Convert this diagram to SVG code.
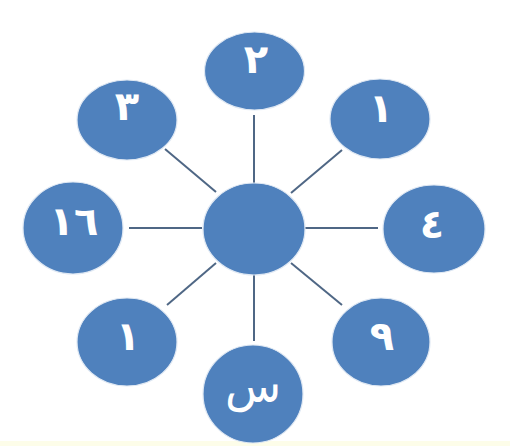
<svg xmlns="http://www.w3.org/2000/svg" width="510" height="446" viewBox="0 0 510 446">
<style>
.n{fill:#4F81BD;stroke:#dfe8f3;stroke-width:1.2}
.c line{stroke:#4f6785;stroke-width:2}
.t{fill:#fff;font-family:"DejaVu Sans",sans-serif;font-size:40px;font-weight:bold;text-anchor:middle}
</style>
<rect x="0" y="0" width="510" height="446" fill="#fff"/>
<rect x="0" y="441" width="510" height="5" fill="#fdfde9"/>
<g id="connectors" class="c">
<line x1="254" y1="115" x2="254" y2="183"/>
<line x1="165" y1="149" x2="216" y2="192"/>
<line x1="342" y1="150" x2="291" y2="193"/>
<line x1="129" y1="228" x2="202" y2="228"/>
<line x1="305" y1="228" x2="378" y2="228"/>
<line x1="216" y1="263" x2="167" y2="305"/>
<line x1="291" y1="263" x2="342" y2="305"/>
<line x1="254" y1="275" x2="254" y2="341"/>
</g>
<g id="center"><ellipse class="n" cx="254" cy="229" rx="51" ry="46"/></g>
<g id="n-top"><ellipse class="n" cx="254.5" cy="71" rx="50" ry="39"/><text class="t" x="256" y="73">٢</text></g>
<g id="n-topleft"><ellipse class="n" cx="127" cy="120" rx="50" ry="40"/><text class="t" x="127" y="120">٣</text></g>
<g id="n-topright"><ellipse class="n" cx="380" cy="119" rx="50" ry="40"/><text class="t" x="381" y="122">١</text></g>
<g id="n-left"><ellipse class="n" cx="73" cy="228" rx="50" ry="46"/><text class="t" x="74" y="235">١٦</text></g>
<g id="n-right"><ellipse class="n" cx="434" cy="229" rx="51" ry="44"/><text class="t" x="432" y="238">٤</text></g>
<g id="n-bottomleft"><ellipse class="n" cx="127" cy="342" rx="50" ry="44"/><text class="t" x="128" y="350">١</text></g>
<g id="n-bottomright"><ellipse class="n" cx="381" cy="342" rx="49" ry="44"/><text class="t" x="382" y="350">٩</text></g>
<g id="n-bottom"><ellipse class="n" cx="253" cy="394" rx="50" ry="49"/><text class="t" x="253" y="402" style="font-size:46px;font-weight:normal">س</text></g>
</svg>
